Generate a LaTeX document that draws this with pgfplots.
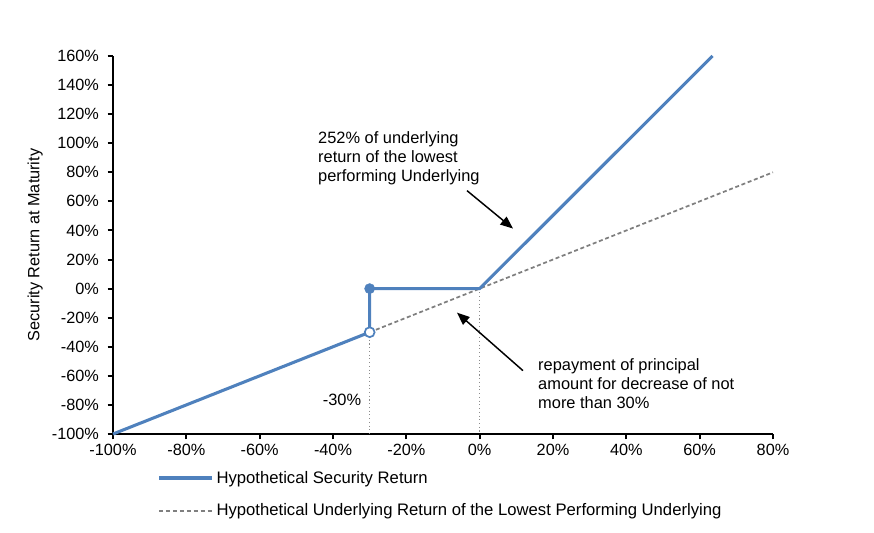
\documentclass[border=0pt]{standalone}
\usepackage{pgfplots}
\pgfplotsset{compat=1.18}
\usepackage{fontspec}
\setmainfont{Liberation Sans}
\usetikzlibrary{arrows.meta}
\definecolor{sblue}{HTML}{4F81BD}
\definecolor{dgray}{HTML}{7F7F7F}
\begin{document}
\begin{tikzpicture}
\begin{axis}[
  scale only axis, width=495pt, height=283.5pt,
  at={(0pt,0pt)}, anchor=south west,
  xmin=-100, xmax=80, ymin=-100, ymax=160,
  axis lines=left, axis line style={-, line width=2.2pt, black},
  tick align=outside, major tick length=4pt, tick style={line width=1.5pt, black},
  xtick={-100,-80,...,80}, ytick={-100,-80,...,160},
  xticklabels={-100\%,-80\%,-60\%,-40\%,-20\%,0\%,20\%,40\%,60\%,80\%},
  yticklabels={-100\%,-80\%,-60\%,-40\%,-20\%,0\%,20\%,40\%,60\%,80\%,100\%,120\%,140\%,160\%},
  ticklabel style={font=\fontsize{12.2}{14}\selectfont},
  yticklabel style={xshift=-3pt},
  ylabel={Security Return at Maturity},
  ylabel style={at={(axis description cs:-0.118,0.5)}, anchor=center, font=\fontsize{12.2}{14}\selectfont},
  clip=false,
  legend cell align=left,
  legend image code/.code={\draw[#1] (0pt,0pt) -- (40pt,0pt);},
  legend style={at={(axis description cs:0.067,-0.09)}, anchor=north west, draw=none, fill=none,
    inner sep=0pt, row sep=10pt, font=\fontsize{12.5}{14}\selectfont},
]
\addplot[dgray, line width=1.3pt, dash pattern=on 3pt off 2pt, forget plot] coordinates {(-30,-30) (80,80)};
\addplot[black!45, dotted, line width=0.8pt, forget plot] coordinates {(-30,-30) (-30,-100)};
\addplot[black!45, dotted, line width=0.8pt, forget plot] coordinates {(0,0) (0,-100)};
\addplot[sblue, line width=2.3pt, line join=round] coordinates {(-100,-100) (-30,-30) (-30,0) (0,0) (63.5,160)};
\addlegendentry{Hypothetical Security Return}
\addlegendimage{dgray, line width=1.2pt, dash pattern=on 3pt off 2.2pt}
\addlegendentry{Hypothetical Underlying Return of the Lowest Performing Underlying}
\addplot[only marks, mark=*, mark size=3.8pt, sblue, forget plot] coordinates {(-30,0)};
\addplot[only marks, mark=*, mark size=3.7pt, mark options={fill=white, draw=sblue, line width=1.3pt}, forget plot] coordinates {(-30,-30)};
\node[align=left, anchor=west, inner sep=0pt, font=\fontsize{12.3}{14.3}\selectfont] at (axis cs:-44.1,89.4) {252\% of underlying\\return of the lowest\\performing Underlying};
\draw[line width=1.1pt, -{Triangle[length=9.5pt,width=7.5pt]}] (axis cs:-3.46,67.4) -- (axis cs:9.1,41.3);
\draw[line width=1.1pt, -{Triangle[length=9.5pt,width=7.5pt]}] (axis cs:11.8,-56.4) -- (axis cs:-6.2,-16.5);
\node[align=left, anchor=west, inner sep=0pt, font=\fontsize{12.3}{14.3}\selectfont] at (axis cs:15.9,-65.3) {repayment of principal\\amount for decrease of not\\more than 30\%};
\node[inner sep=0pt, font=\fontsize{12.3}{14.3}\selectfont] at (axis cs:-37.55,-76.3) {-30\%};
\end{axis}
\path (-84.75pt,-73.5pt) rectangle (570.75pt,325.5pt);
\end{tikzpicture}
\end{document}
